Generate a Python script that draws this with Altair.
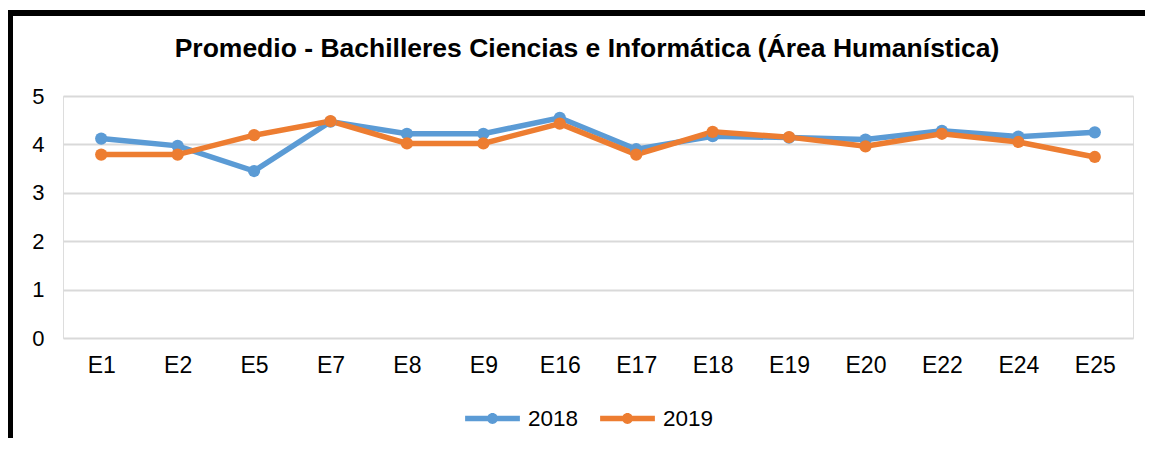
import altair as alt
import pandas as pd

categories = ["E1", "E2", "E5", "E7", "E8", "E9", "E16", "E17", "E18", "E19", "E20", "E22", "E24", "E25"]
values_2018 = [4.12, 3.97, 3.45, 4.47, 4.22, 4.22, 4.55, 3.90, 4.17, 4.14, 4.10, 4.28, 4.16, 4.25]
values_2019 = [3.79, 3.79, 4.19, 4.48, 4.02, 4.02, 4.43, 3.79, 4.26, 4.15, 3.96, 4.22, 4.05, 3.74]
series = ["2018", "2019"]
colors = ["#5B9BD5", "#ED7D31"]

rows = []
for i, c in enumerate(categories):
    rows.append({"cat": c, "serie": series[0], "val": values_2018[i]})
    rows.append({"cat": c, "serie": series[1], "val": values_2019[i]})
df = pd.DataFrame(rows)

FONT = "Liberation Sans"

x_enc = alt.X("cat:N", sort=categories, scale=alt.Scale(type="point", padding=0.5),
              axis=alt.Axis(title=None, labelAngle=0, labelFontSize=23, labelColor="#000000",
                            labelFont=FONT, domain=False, ticks=False, grid=False, labelPadding=16))
y_enc = alt.Y("val:Q", scale=alt.Scale(domain=[0, 5], nice=False),
              axis=alt.Axis(title=None, values=[0, 1, 2, 3, 4, 5], labelFontSize=22, labelColor="#000000",
                            labelFont=FONT, domain=False, ticks=False, gridColor="#D9D9D9",
                            gridWidth=2, labelPadding=19))
color_scale = alt.Scale(domain=series, range=colors)

legend_path = ("M-1,-0.1H1V0.1H-1Z "
               "M-0.2,0A0.2,0.2 0 1,1 0.2,0A0.2,0.2 0 1,1 -0.2,0Z")

base = alt.Chart(df)
lines = base.mark_line(strokeWidth=5.5).encode(
    x=x_enc, y=y_enc,
    color=alt.Color("serie:N", scale=color_scale,
                    legend=alt.Legend(title=None, orient="none", direction="horizontal",
                                      legendX=402, legendY=295, symbolType=legend_path,
                                      symbolSize=3000, symbolStrokeWidth=0, labelFontSize=22.5,
                                      labelColor="#000000", labelFont=FONT, labelOffset=8,
                                      columnPadding=21, symbolOpacity=1))
)
points = base.mark_circle(size=150, opacity=1).encode(
    x=x_enc, y=y_enc,
    color=alt.Color("serie:N", scale=color_scale)
)

one = pd.DataFrame({"a": [0]})
border_top = alt.Chart(one).mark_rule(color="black", strokeWidth=6).encode(
    x=alt.value(-56), x2=alt.value(1082), y=alt.value(-83))
border_left = alt.Chart(one).mark_rule(color="black", strokeWidth=6).encode(
    x=alt.value(-53), y=alt.value(-86), y2=alt.value(342))

chart = alt.layer(lines, points, border_top, border_left).properties(
    width=1070, height=242,
    title=alt.Title("Promedio - Bachilleres Ciencias e Informática (Área Humanística)",
                    fontSize=26.5, font=FONT, fontWeight="bold", color="#000000",
                    anchor="middle", offset=-55, dx=-11),
    autosize=alt.AutoSizeParams(type="none"),
    padding={"left": 55, "top": 88, "right": 12, "bottom": 100},
).configure_view(stroke=None).configure(background="white")

chart.save("out.html", embed_options={"renderer": "svg", "actions": False})
